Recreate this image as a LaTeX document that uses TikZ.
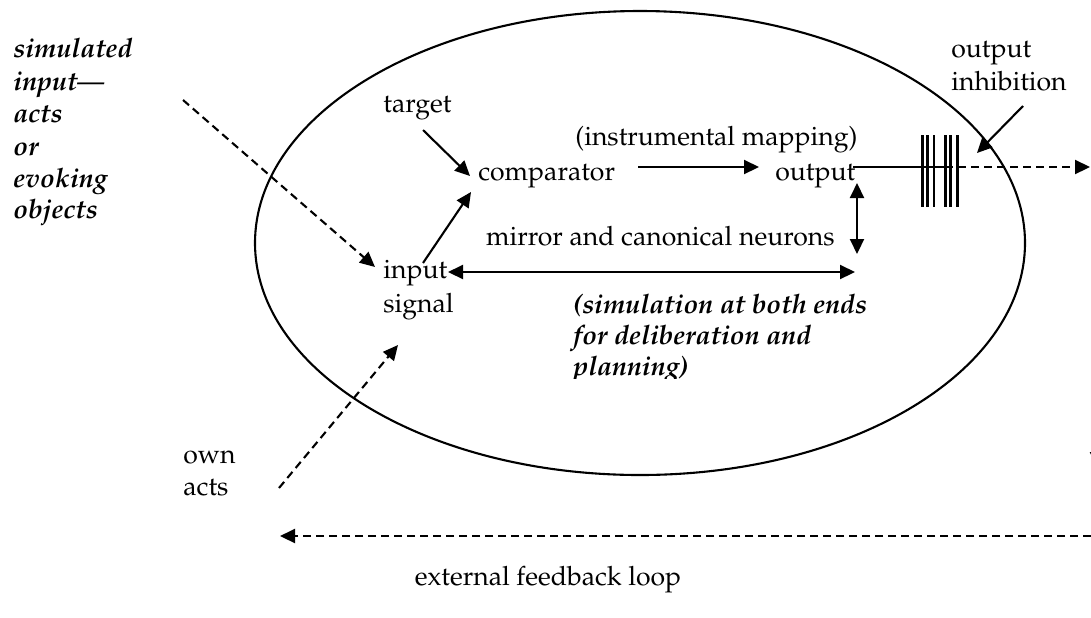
\documentclass[tikz,border=0pt]{standalone}
\usepackage[T1]{fontenc}
\usepackage{mathpazo}
\usetikzlibrary{arrows.meta}
\tikzset{
  lbl/.style={inner sep=0pt, anchor=base west, font=\fontsize{13.3}{16.2}\selectfont},
  bilbl/.style={lbl, font=\fontsize{13.4}{16.2}\selectfont\bfseries\itshape},
  tip/.style={-{Triangle[length=7.5pt,width=7pt]}},
  dtip/.style={{Triangle[length=7.5pt,width=7pt]}-{Triangle[length=7.5pt,width=7pt]}},
  ln/.style={line width=1.05pt},
  dsh/.style={ln, dash pattern=on 4pt off 2.5pt},
  bar/.style={line width=#1},
}
\begin{document}
\begin{tikzpicture}[x=0.5pt,y=-0.5pt]
\useasboundingbox (0,0) rectangle (1091,617);
\clip (0,0) rectangle (1091,617);

% the system
\draw[ln] (640,243) ellipse [x radius=385, y radius=232];

% labels
\node[bilbl] (s1) at (13,57)  {simulated};
\node[bilbl] (s2) at (13,90)  {input---};
\node[bilbl] (s3) at (13,122) {acts};
\node[bilbl] (s4) at (13,155) {or};
\node[bilbl] (s5) at (13,187) {evoking};
\node[bilbl] (s6) at (13,218) {objects};

\node[lbl] (target) at (383,112) {target};
\node[lbl] (comp)   at (478,180) {comparator};
\node[lbl] (instr)  at (575,145) {(instrumental mapping)};
\node[lbl] (out)    at (775,180) {output};
\node[lbl, anchor=base east] (mirror) at (835,245) {mirror and canonical neurons};
\node[lbl] (inp)    at (383,278) {input};
\node[lbl] (sig)    at (383,312) {signal};
\node[lbl] (inh1)   at (951,57)  {output};
\node[lbl] (inh2)   at (951,90)  {inhibition};
\node[lbl] (own1)   at (183,463) {own};
\node[lbl] (own2)   at (183,495) {acts};
\node[lbl, anchor=base] (loop) at (548,585) {external feedback loop};

\begin{scope}
  \clip (560,280) rectangle (900,378);
  \node[bilbl] (d1) at (573,313) {(simulation at both ends};
  \node[bilbl] (d2) at (573,344) {for deliberation and};
  \node[bilbl] (d3) at (573,375) {planning)};
\end{scope}

% connector end points
\coordinate (simS)  at (183,100);
\coordinate (simE)  at (375,267);
\coordinate (tgS)   at (423,130);
\coordinate (tgE)   at (470,176);
\coordinate (inS)   at (423,263);
\coordinate (inE)   at (471,192);
\coordinate (cmS)   at (638,167);
\coordinate (cmE)   at (759,167);
\coordinate (vS)    at (857,183);
\coordinate (vE)    at (857,254);
\coordinate (hS)    at (448,272);
\coordinate (hE)    at (855,272);
\coordinate (oS)    at (853,167);
\coordinate (oM)    at (945,167);
\coordinate (oE)    at (1090,167);
\coordinate (ihS)   at (1023,106);
\coordinate (ihE)   at (977,153);
\coordinate (owS)   at (279,488);
\coordinate (owE)   at (398,345);
\coordinate (fbS)   at (1091,536);
\coordinate (fbE)   at (280,536);
\coordinate (rdS)   at (1097,430);
\coordinate (rdE)   at (1097,467);

% connectors
\draw[dsh, tip] (simS) -- (simE);
\draw[ln, tip]  (tgS) -- (tgE);
\draw[ln, tip]  (inS) -- (inE);
\draw[ln, tip]  (cmS) -- (cmE);
\draw[ln, dtip] (vS) -- (vE);
\draw[ln, dtip] (hS) -- (hE);
\draw[ln] (oS) -- (oM);
\draw[dsh, tip] (oM) -- (oE);
\draw[ln, tip]  (ihS) -- (ihE);
\draw[dsh, tip] (owS) -- (owE);
\draw[dsh, tip] (fbS) -- (fbE);
\draw[dsh, tip] (rdS) -- (rdE);

% inhibition bars
\foreach \x/\w in {922.5/1.5pt, 927.3/1.35pt, 934/1.35pt, 945.5/1.2pt, 950.7/1.35pt, 957.3/1.35pt}
  \draw[bar=\w] (\x,135) -- (\x,207);
\end{tikzpicture}
\end{document}
